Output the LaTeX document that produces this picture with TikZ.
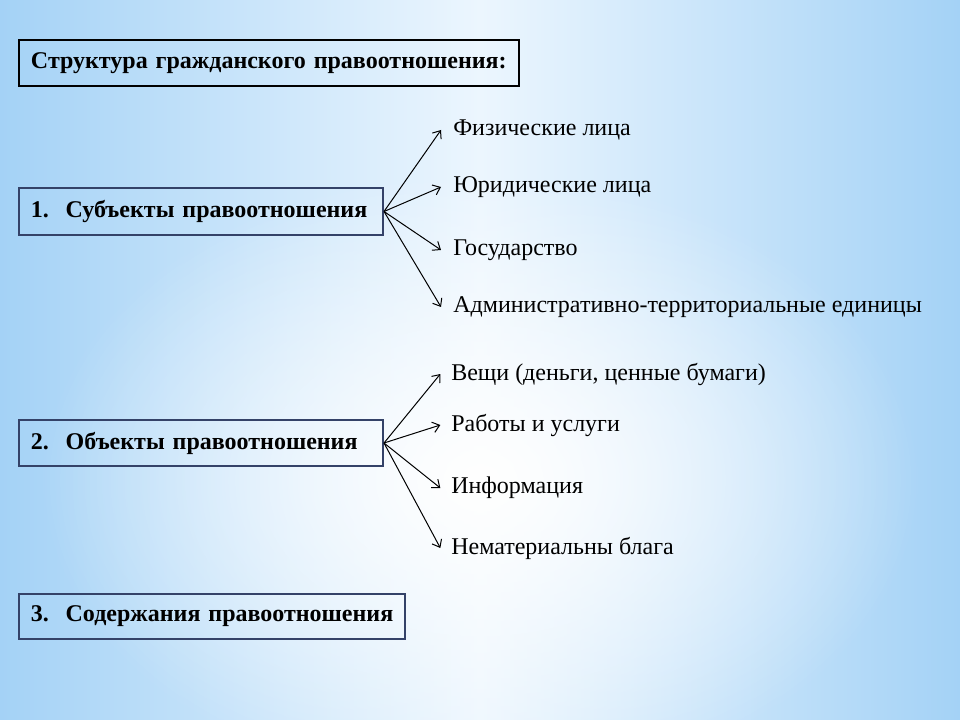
\documentclass[tikz,border=0pt]{standalone}
\usepackage{fontspec}
\setmainfont{Liberation Serif}
\usetikzlibrary{arrows.meta,fadings}

\definecolor{bgblue}{RGB}{164,210,246}
\definecolor{bglight}{RGB}{236,246,254}
\definecolor{boxline}{RGB}{52,66,104}

\tikzfading[name=glowfade, inner color=transparent!0, outer color=transparent!100]

\begin{document}
\begin{tikzpicture}[x=0.75pt,y=-0.75pt,
    partbox/.style={draw=boxline,line width=1.5pt,anchor=west,inner sep=9pt,
        font=\fontsize{18}{21}\selectfont\bfseries,align=left},
    item/.style={anchor=west,inner sep=0pt,font=\fontsize{18}{21}\selectfont},
    fan/.style={-{Straight Barb[length=5pt,width=8pt]},line width=0.75pt}]
    % background
    \useasboundingbox (0,0) rectangle (960,720);
    \begin{scope}
        \clip (0,0) rectangle (960,720);
        \fill[bgblue] (0,0) rectangle (960,720);
        \shade[left color=bgblue,right color=bgblue,middle color=bglight] (0,0) rectangle (960,720);
        \fill[white,path fading=glowfade] (480,480) ellipse (440 and 310);
    \end{scope}

    \node[partbox,draw=black,minimum width=375pt,minimum height=30.75pt,text width=357pt] (title) at (18,63) {\mbox{Структура гражданского правоотношения:}};

    \node[partbox,minimum width=273pt,minimum height=33.75pt,text width=255pt] (subj) at (18,211.5) {\mbox{\makebox[26pt][l]{1.}Субъекты правоотношения}};
    \node[partbox,minimum width=273pt,minimum height=34.5pt,text width=255pt] (obj) at (18,443) {\mbox{\makebox[26pt][l]{2.}Объекты правоотношения}};
    \node[partbox,minimum width=289.5pt,minimum height=33.75pt,text width=271.5pt] (cont) at (18,616.5) {\mbox{\makebox[26pt][l]{3.}Содержания правоотношения}};

    \node[item] (fiz) at (453,130) {Физические лица};
    \node[item] (jur) at (453,187) {Юридические лица};
    \node[item] (gos) at (453,250) {Государство};
    \node[item] (adm) at (453,307) {Административно-территориальные единицы};

    \node[item] (vesh) at (451,374) {Вещи (деньги, ценные бумаги)};
    \node[item] (rab) at (451,425) {Работы и услуги};
    \node[item] (inf) at (451,488) {Информация};
    \node[item] (nem) at (451,548) {Нематериальны блага};

    \foreach \t in {fiz,jur,gos,adm}
        \draw[fan] (subj.east) -- ([xshift=-9pt]\t.west);
    \foreach \t in {vesh,rab,inf,nem}
        \draw[fan] (obj.east) -- ([xshift=-8pt]\t.west);
\end{tikzpicture}
\end{document}
